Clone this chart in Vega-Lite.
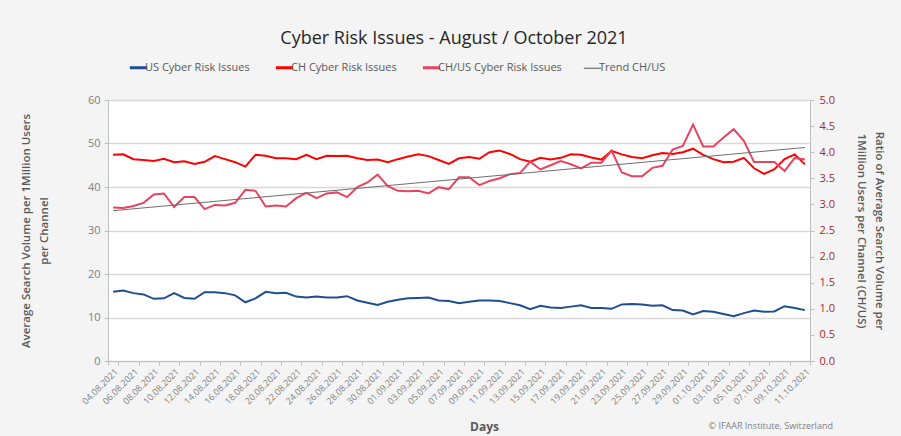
{
  "$schema": "https://vega.github.io/schema/vega-lite/v6.json",
  "width": 702,
  "height": 261,
  "autosize": {"type": "none"},
  "padding": {"left": 108, "top": 100, "right": 91, "bottom": 75},
  "background": "#f4f4f4",
  "config": {
    "font": "Open Sans",
    "view": {"fill": "white", "stroke": null}
  },
  "title": {"text": "Cyber Risk Issues - August / October 2021", "fontSize": 18, "fontWeight": "normal", "color": "#262626", "font": "Open Sans", "offset": 14, "dx": -5},
  "data": {"values": [
    {"d":"04.08.2021","US":15.9,"CH":47.4,"R":2.94,"T":2.88},
    {"d":"05.08.2021","US":16.2,"CH":47.5,"R":2.93},
    {"d":"06.08.2021","US":15.6,"CH":46.4,"R":2.97},
    {"d":"07.08.2021","US":15.3,"CH":46.2,"R":3.03},
    {"d":"08.08.2021","US":14.3,"CH":46.0,"R":3.19},
    {"d":"09.08.2021","US":14.4,"CH":46.5,"R":3.21},
    {"d":"10.08.2021","US":15.6,"CH":45.7,"R":2.95},
    {"d":"11.08.2021","US":14.5,"CH":45.9,"R":3.14},
    {"d":"12.08.2021","US":14.3,"CH":45.3,"R":3.14},
    {"d":"13.08.2021","US":15.8,"CH":45.8,"R":2.91},
    {"d":"14.08.2021","US":15.8,"CH":47.1,"R":2.99},
    {"d":"15.08.2021","US":15.6,"CH":46.4,"R":2.98},
    {"d":"16.08.2021","US":15.1,"CH":45.7,"R":3.03},
    {"d":"17.08.2021","US":13.5,"CH":44.7,"R":3.28},
    {"d":"18.08.2021","US":14.4,"CH":47.4,"R":3.26},
    {"d":"19.08.2021","US":15.9,"CH":47.2,"R":2.96},
    {"d":"20.08.2021","US":15.6,"CH":46.6,"R":2.98},
    {"d":"21.08.2021","US":15.7,"CH":46.6,"R":2.96},
    {"d":"22.08.2021","US":14.8,"CH":46.4,"R":3.12},
    {"d":"23.08.2021","US":14.6,"CH":47.4,"R":3.22},
    {"d":"24.08.2021","US":14.8,"CH":46.4,"R":3.12},
    {"d":"25.08.2021","US":14.6,"CH":47.2,"R":3.21},
    {"d":"26.08.2021","US":14.6,"CH":47.1,"R":3.23},
    {"d":"27.08.2021","US":14.9,"CH":47.2,"R":3.14},
    {"d":"28.08.2021","US":13.9,"CH":46.6,"R":3.33},
    {"d":"29.08.2021","US":13.4,"CH":46.2,"R":3.42},
    {"d":"30.08.2021","US":12.9,"CH":46.3,"R":3.57},
    {"d":"31.08.2021","US":13.6,"CH":45.7,"R":3.35},
    {"d":"01.09.2021","US":14.1,"CH":46.4,"R":3.26},
    {"d":"02.09.2021","US":14.4,"CH":47.0,"R":3.25},
    {"d":"03.09.2021","US":14.5,"CH":47.5,"R":3.26},
    {"d":"04.09.2021","US":14.6,"CH":47.1,"R":3.21},
    {"d":"05.09.2021","US":13.9,"CH":46.2,"R":3.33},
    {"d":"06.09.2021","US":13.8,"CH":45.3,"R":3.29},
    {"d":"07.09.2021","US":13.3,"CH":46.6,"R":3.52},
    {"d":"08.09.2021","US":13.6,"CH":46.9,"R":3.52},
    {"d":"09.09.2021","US":13.9,"CH":46.5,"R":3.37},
    {"d":"10.09.2021","US":13.9,"CH":48.0,"R":3.45},
    {"d":"11.09.2021","US":13.8,"CH":48.4,"R":3.50},
    {"d":"12.09.2021","US":13.3,"CH":47.6,"R":3.58},
    {"d":"13.09.2021","US":12.8,"CH":46.4,"R":3.60},
    {"d":"14.09.2021","US":11.9,"CH":45.8,"R":3.82},
    {"d":"15.09.2021","US":12.7,"CH":46.7,"R":3.67},
    {"d":"16.09.2021","US":12.3,"CH":46.3,"R":3.75},
    {"d":"17.09.2021","US":12.2,"CH":46.7,"R":3.83},
    {"d":"18.09.2021","US":12.5,"CH":47.5,"R":3.77},
    {"d":"19.09.2021","US":12.8,"CH":47.4,"R":3.69},
    {"d":"20.09.2021","US":12.2,"CH":46.8,"R":3.80},
    {"d":"21.09.2021","US":12.2,"CH":46.3,"R":3.80},
    {"d":"22.09.2021","US":12.0,"CH":48.3,"R":4.03},
    {"d":"23.09.2021","US":13.0,"CH":47.5,"R":3.61},
    {"d":"24.09.2021","US":13.1,"CH":46.9,"R":3.54},
    {"d":"25.09.2021","US":13.0,"CH":46.6,"R":3.54},
    {"d":"26.09.2021","US":12.7,"CH":47.3,"R":3.70},
    {"d":"27.09.2021","US":12.8,"CH":47.8,"R":3.74},
    {"d":"28.09.2021","US":11.7,"CH":47.6,"R":4.05},
    {"d":"29.09.2021","US":11.6,"CH":48.0,"R":4.12},
    {"d":"30.09.2021","US":10.7,"CH":48.8,"R":4.53},
    {"d":"01.10.2021","US":11.5,"CH":47.4,"R":4.11},
    {"d":"02.10.2021","US":11.3,"CH":46.4,"R":4.11},
    {"d":"03.10.2021","US":10.8,"CH":45.7,"R":4.28},
    {"d":"04.10.2021","US":10.3,"CH":45.8,"R":4.44},
    {"d":"05.10.2021","US":11.0,"CH":46.7,"R":4.22},
    {"d":"06.10.2021","US":11.6,"CH":44.3,"R":3.81},
    {"d":"07.10.2021","US":11.3,"CH":43.0,"R":3.81},
    {"d":"08.10.2021","US":11.4,"CH":44.1,"R":3.81},
    {"d":"09.10.2021","US":12.6,"CH":46.4,"R":3.64},
    {"d":"10.10.2021","US":12.2,"CH":47.5,"R":3.89},
    {"d":"11.10.2021","US":11.7,"CH":45.2,"R":3.86,"T":4.09}
  ]},
  "encoding": {
    "x": {
      "field": "d", "type": "ordinal", "bandPosition": 0.5,
      "scale": {"type": "band", "paddingInner": 0, "paddingOuter": 0,
        "domain": ["04.08.2021","05.08.2021","06.08.2021","07.08.2021","08.08.2021","09.08.2021","10.08.2021","11.08.2021","12.08.2021","13.08.2021","14.08.2021","15.08.2021","16.08.2021","17.08.2021","18.08.2021","19.08.2021","20.08.2021","21.08.2021","22.08.2021","23.08.2021","24.08.2021","25.08.2021","26.08.2021","27.08.2021","28.08.2021","29.08.2021","30.08.2021","31.08.2021","01.09.2021","02.09.2021","03.09.2021","04.09.2021","05.09.2021","06.09.2021","07.09.2021","08.09.2021","09.09.2021","10.09.2021","11.09.2021","12.09.2021","13.09.2021","14.09.2021","15.09.2021","16.09.2021","17.09.2021","18.09.2021","19.09.2021","20.09.2021","21.09.2021","22.09.2021","23.09.2021","24.09.2021","25.09.2021","26.09.2021","27.09.2021","28.09.2021","29.09.2021","30.09.2021","01.10.2021","02.10.2021","03.10.2021","04.10.2021","05.10.2021","06.10.2021","07.10.2021","08.10.2021","09.10.2021","10.10.2021","11.10.2021"]},
      "axis": {
        "values": ["04.08.2021","06.08.2021","08.08.2021","10.08.2021","12.08.2021","14.08.2021","16.08.2021","18.08.2021","20.08.2021","22.08.2021","24.08.2021","26.08.2021","28.08.2021","30.08.2021","01.09.2021","03.09.2021","05.09.2021","07.09.2021","09.09.2021","11.09.2021","13.09.2021","15.09.2021","17.09.2021","19.09.2021","21.09.2021","23.09.2021","25.09.2021","27.09.2021","29.09.2021","01.10.2021","03.10.2021","05.10.2021","07.10.2021","09.10.2021","11.10.2021"],
        "labelAngle": -45, "labelFontSize": 9, "labelColor": "#7f7f7f", "labelFont": "Open Sans", "labelOverlap": false,
        "tickBand": "extent", "tickSize": 4, "tickColor": "#bfbfbf", "domainColor": "#bfbfbf", "grid": false,
        "title": "Days", "titleFont": "Open Sans", "titleFontSize": 12, "titleFontWeight": "bold", "titleColor": "#595959",
        "titleX": 376, "titleY": 65, "titleBaseline": "middle"
      }
    }
  },
  "layer": [
    {
      "layer": [
        {
          "transform": [{"fold": ["US", "CH"], "as": ["s", "v"]}, {"filter": "isValid(datum.v)"}],
          "mark": {"type": "line", "strokeWidth": 2},
          "encoding": {
            "y": {"field": "v", "type": "quantitative", "scale": {"domain": [0, 60], "nice": false},
              "axis": {"values": [0,10,20,30,40,50,60], "grid": true, "gridColor": "#d9d9d9", "gridWidth": 1.3, "labelOverlap": false,
                "domainColor": "#bfbfbf", "tickColor": "#bfbfbf", "tickSize": 4, "labelColor": "#7f7f7f", "labelFontSize": 11, "labelFont": "Open Sans", "labelPadding": 4,
                "title": ["Average Search Volume per 1Million Users", "per Channel"], "titleFont": "Open Sans", "titleFontSize": 11.5, "titleFontWeight": 600, "titleColor": "#595959", "titleLineHeight": 18, "titlePadding": 38}},
            "color": {"field": "s", "type": "nominal",
              "scale": {"domain": ["US", "CH", "R", "T"], "range": ["#1f4e91", "#ff0000", "#e8435f", "#6d6d6d"]},
              "legend": {"orient": "none", "legendX": 25, "legendY": -38, "direction": "horizontal", "columns": 4, "title": null,
                "labelExpr": "datum.label === 'US' ? 'US Cyber Risk Issues' : datum.label === 'CH' ? 'CH Cyber Risk Issues' : datum.label === 'R' ? 'CH/US Cyber Risk Issues' : 'Trend CH/US'",
                "labelFont": "Open Sans", "labelFontSize": 11, "labelColor": "#595959", "symbolType": "stroke", "symbolSize": 300, "symbolStrokeWidth": 3, "columnPadding": 19, "labelOffset": 1,
                "encode": {"symbols": {"update": {"strokeWidth": {"signal": "datum.value === 'T' ? 1.2 : 3"}}}}}}
          }
        },
        {
          "data": {"values": [{"d": "11.10.2021", "t": "© IFAAR Institute, Switzerland"}]},
          "mark": {"type": "text", "align": "right", "baseline": "middle", "dx": 28, "fontSize": 9, "font": "Open Sans", "color": "#7f7f7f"},
          "encoding": {"y": {"datum": -15, "type": "quantitative"}, "text": {"field": "t"}}
        }
      ]
    },
    {
      "encoding": {
        "y": {"field": "v", "type": "quantitative", "scale": {"domain": [0, 5], "nice": false},
          "axis": {"orient": "right", "values": [0,0.5,1,1.5,2,2.5,3,3.5,4,4.5,5], "format": ".1f", "grid": false, "labelOverlap": false,
            "domainColor": "#bfbfbf", "tickColor": "#bfbfbf", "tickSize": 4, "labelColor": "#a0282d", "labelFontSize": 11, "labelFont": "Open Sans", "labelPadding": 5,
            "title": ["Ratio of Average Search Volume per", "1Million Users per Channel (CH/US)"], "titleFont": "Open Sans", "titleFontSize": 11.5, "titleFontWeight": 600, "titleColor": "#595959", "titleLineHeight": 18, "titlePadding": 21}},
        "color": {"field": "s", "type": "nominal"}
      },
      "layer": [
        {
          "transform": [{"fold": ["R"], "as": ["s", "v"]}, {"filter": "isValid(datum.v)"}],
          "mark": {"type": "line", "strokeWidth": 2}
        },
        {
          "transform": [{"fold": ["T"], "as": ["s", "v"]}, {"filter": "isValid(datum.v)"}],
          "mark": {"type": "line", "strokeWidth": 1}
        }
      ]
    }
  ],
  "resolve": {"scale": {"y": "independent"}}
}
